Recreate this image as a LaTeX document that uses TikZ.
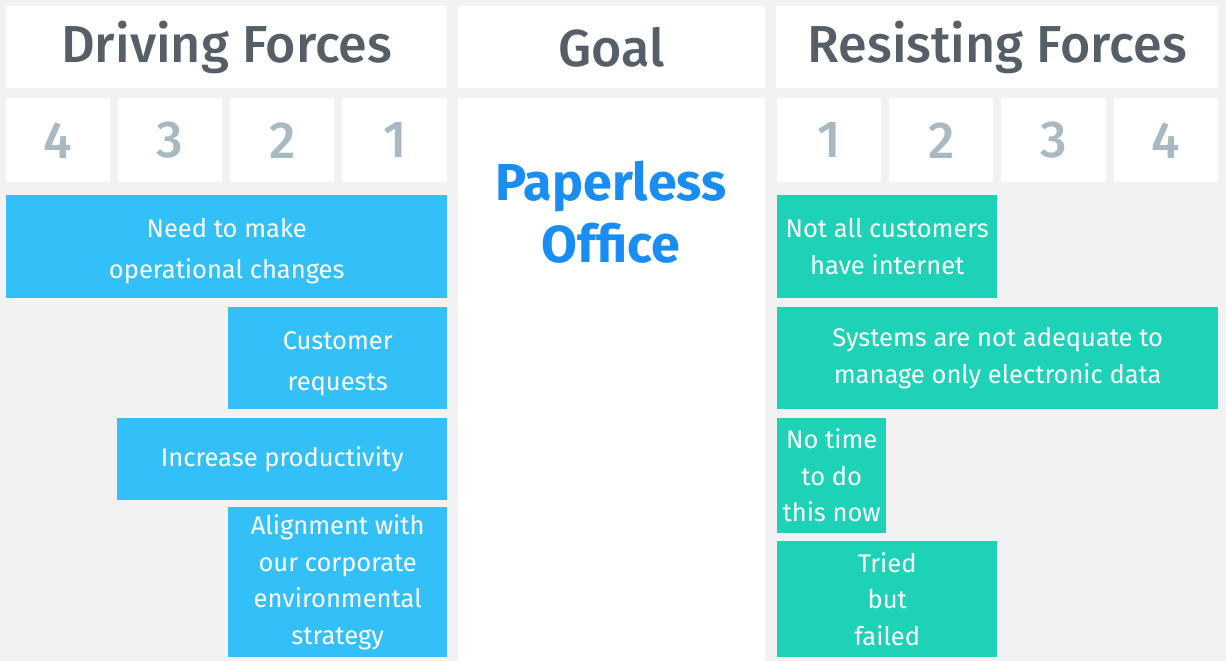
\documentclass[tikz,border=0pt]{standalone}
\usepackage{fontspec}
\setmainfont{Fira Sans}
\newfontfamily\headfont{Fira Sans Medium}
\definecolor{pagebg}{HTML}{F2F2F2}
\definecolor{drive}{HTML}{33C0F8}
\definecolor{resist}{HTML}{1DD2B6}
\definecolor{headtxt}{HTML}{565F67}
\definecolor{numtxt}{HTML}{A9B9C1}
\definecolor{goaltxt}{HTML}{1A8DF2}
\begin{document}
\begin{tikzpicture}[x=1pt,y=-1pt,
  cell/.style={fill=white, draw=none, inner sep=0pt, anchor=north west},
  headcell/.style={cell, font=\headfont\fontsize{52}{54}\selectfont, text=headtxt},
  numcell/.style={cell, minimum height=84pt, font=\headfont\fontsize{52}{54}\selectfont, text=numtxt},
  force/.style={inner sep=0pt, anchor=north west, align=center, text=white,
    font=\fontsize{25.5}{36.5}\selectfont},
  widelines/.style={font=\fontsize{25.5}{41}\selectfont, text height=70pt},
  drivebox/.style={force, fill=drive},
  resistbox/.style={force, fill=resist}]
  % page
  \fill[pagebg] (0,0) rectangle (1226,661);
  \useasboundingbox (0,0) rectangle (1226,661);
  % column headers
  \node[headcell, minimum width=441pt, minimum height=82pt] (hdrive) at (6,6) {Driving Forces};
  \node[headcell, minimum width=307pt, minimum height=82pt] (hgoal) at (458,6) {Goal};
  \node[headcell, minimum width=442pt, minimum height=82pt] (hresist) at (776,6) {Resisting Forces};
  % strength scale
  \node[numcell, minimum width=104pt] (d4) at (6,98) {4};
  \node[numcell, minimum width=104pt] (d3) at (118,98) {3};
  \node[numcell, minimum width=104pt] (d2) at (230,98) {2};
  \node[numcell, minimum width=105pt] (d1) at (342,98) {1};
  \node[numcell, minimum width=104pt] (r1) at (777,98) {1};
  \node[numcell, minimum width=104pt] (r2) at (889,98) {2};
  \node[numcell, minimum width=105pt] (r3) at (1001,98) {3};
  \node[numcell, minimum width=104pt] (r4) at (1114,98) {4};
  % goal column
  \node[cell, minimum width=307pt, minimum height=563pt] (goal) at (458,98) {};
  \node[align=center, text=goaltxt, font=\bfseries\fontsize{52}{62}\selectfont] (goaltext) at (611,212) {Paperless\\Office};
  % driving forces
  \node[drivebox, widelines, minimum width=441pt, minimum height=103pt] (f1) at (6,195) {Need to make\\operational changes};
  \node[drivebox, widelines, minimum width=219pt, minimum height=102pt] (f2) at (228,307) {Customer\\requests};
  \node[drivebox, minimum width=330pt, minimum height=82pt] (f3) at (117,418) {Increase productivity};
  \node[drivebox, minimum width=219pt, minimum height=150pt] (f4) at (228,507) {Alignment with\\our corporate\\environmental\\strategy};
  % resisting forces
  \node[resistbox, minimum width=220pt, minimum height=103pt] (g1) at (777,195) {Not all customers\\have internet};
  \node[resistbox, minimum width=441pt, minimum height=102pt] (g2) at (777,307) {Systems are not adequate to\\manage only electronic data};
  \node[resistbox, minimum width=109pt, minimum height=115pt] (g3) at (777,418) {No time\\to do\\this now};
  \node[resistbox, minimum width=220pt, minimum height=116pt] (g4) at (777,541) {Tried\\but\\failed};
\end{tikzpicture}
\end{document}
